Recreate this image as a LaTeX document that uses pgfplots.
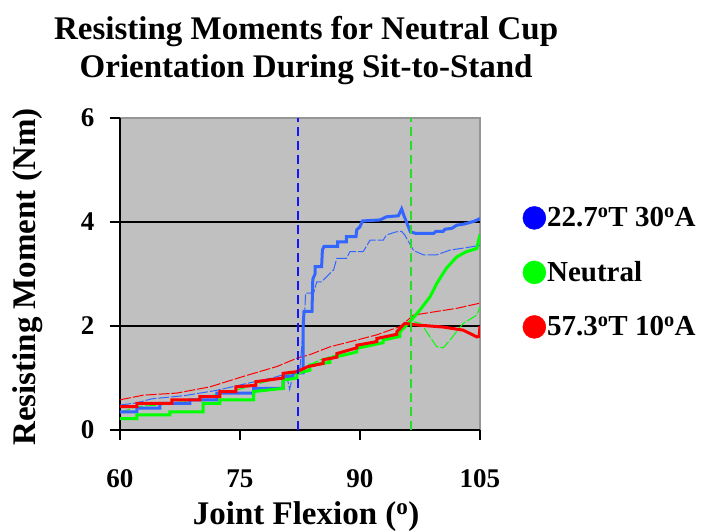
\documentclass[border=0pt]{standalone}
\usepackage{fontspec}
\setmainfont{Liberation Serif}
\usepackage{pgfplots}
\pgfplotsset{compat=1.18}
\definecolor{bggray}{RGB}{192,192,192}
\definecolor{bordergray}{RGB}{150,150,150}
\definecolor{lblue}{RGB}{51,102,255}
\definecolor{lgreen}{RGB}{0,255,0}
\definecolor{lred}{RGB}{255,0,0}
\definecolor{dblue}{RGB}{20,20,255}
\definecolor{dgreen}{RGB}{40,220,40}
\begin{document}
\begin{tikzpicture}[x=1pt,y=1pt]
\useasboundingbox (0,0) rectangle (702,531);
\begin{axis}[
  at={(120pt,101pt)}, anchor=south west,
  scale only axis, width=360pt, height=312pt,
  xmin=60, xmax=105, ymin=0, ymax=6,
  xtick={60,75,90,105}, ytick={0,2,4,6},
  tick align=outside, major tick length=10pt,
  tick style={black, line width=1.2pt},
  axis x line*=bottom, axis y line*=left,
  x axis line style={-, line width=1.4pt},
  y axis line style={-, line width=1.4pt},
  axis background/.style={fill=bggray, draw=bordergray, line width=1.2pt},
  extra y ticks={2,4}, extra y tick labels={},
  extra y tick style={grid=major, major tick length=0pt},
  grid style={black, line width=1.3pt},
  /pgf/number format/assume math mode=true,
  ticklabel style={font=\fontsize{27}{27}\selectfont\bfseries},
  xticklabel style={yshift=-26pt},
  yticklabel style={xshift=-12pt},
  title={Resisting Moments for Neutral Cup\\Orientation During Sit-to-Stand},
  title style={at={(axis description cs:0.517,1)}, anchor=south, yshift=24pt, align=center,
    font=\fontsize{33}{38}\selectfont\bfseries},
  xlabel={Joint Flexion (\textsuperscript{o})},
  xlabel style={at={(axis description cs:0.517,0)}, anchor=base, yshift=-94pt,
    font=\fontsize{33}{38}\selectfont\bfseries},
  ylabel={Resisting Moment (Nm)},
  ylabel style={at={(axis description cs:-0.2556,0.49)}, anchor=center,
    font=\fontsize{33}{38}\selectfont\bfseries},
  legend style={at={(axis description cs:1.118,0.718)}, anchor=north west,
    draw=none, fill=none, font=\fontsize{29}{29}\selectfont\bfseries,
    row sep=31pt, inner sep=0pt, nodes={inner sep=1pt}},
  legend cell align=left,
]
% thin series
\addplot[forget plot, lblue, line width=1pt, dash pattern=on 11pt off 2pt] coordinates {
(60,0.48)(62,0.52)(64,0.60)(68,0.66)(72,0.76)(76,0.90)(79,1.00)(80.8,1.08)(81.2,0.78)(81.6,1.05)(82.5,1.2)(83.1,2.3)(83.2,2.63)(84.2,2.63)(84.6,2.85)(85.2,2.85)(86.7,3.08)(87.1,3.30)(88.3,3.30)(88.75,3.43)(90.4,3.43)(91.25,3.65)(92.9,3.65)(93.3,3.75)(94.5,3.81)(95.2,3.82)(95.6,3.75)(96.7,3.45)(97.9,3.37)(99.6,3.37)(101.25,3.46)(103,3.50)(104.6,3.54)(105,3.55)};
\addplot[forget plot, lgreen, line width=1pt, dash pattern=on 11pt off 2pt] coordinates {
(60,0.33)(62,0.45)(65,0.48)(68,0.55)(71,0.65)(74,0.74)(77,0.88)(80,1.0)(82,1.12)(83.75,1.25)(85,1.35)(87.1,1.45)(90,1.6)(92,1.72)(94,1.82)(95.5,1.95)(96.25,2.10)(97.5,2.05)(97.9,1.99)(98.75,1.79)(99.6,1.60)(100.4,1.58)(101.25,1.73)(102.9,2.05)(104.6,2.21)(105,2.37)};
\addplot[forget plot, lred, line width=1pt, dash pattern=on 11pt off 2pt] coordinates {
(60,0.58)(62.9,0.67)(67.1,0.71)(71.25,0.83)(75.4,1.03)(79.6,1.22)(82.1,1.38)(83.75,1.45)(86.25,1.6)(89.6,1.73)(92.1,1.83)(95,1.99)(96.7,2.21)(99.6,2.28)(102.1,2.34)(105,2.44)};
% thick series
\addplot[forget plot, lblue, line width=3pt] coordinates {
(60,0.35)(62.1,0.35)(62.1,0.42)(65,0.42)(65,0.51)(68.75,0.51)(68.75,0.58)(72.1,0.58)(72.1,0.71)(76.7,0.71)(76.7,0.80)(80.4,0.80)(80.4,1.03)(81.6,1.03)(81.6,1.10)(82.9,1.10)(82.9,2.0)(83.0,2.28)(84.0,2.28)(84.1,2.9)(84.4,3.01)(84.4,3.14)(85.2,3.14)(85.3,3.46)(85.5,3.53)(87.2,3.53)(87.2,3.62)(88.3,3.62)(88.3,3.72)(89.5,3.72)(89.6,3.85)(90.0,3.91)(90.3,4.02)(92.5,4.04)(93.3,4.10)(94.8,4.12)(95.2,4.25)(95.5,4.12)(96.3,3.81)(97,3.78)(99.2,3.78)(99.5,3.82)(100.4,3.82)(100.6,3.86)(101.5,3.88)(102.1,3.94)(103,3.96)(104.2,4.01)(104.8,4.05)(105,4.07)};
\addplot[forget plot, lgreen, line width=3pt] coordinates {
(60,0.22)(62.1,0.22)(62.1,0.29)(66.25,0.29)(66.25,0.35)(70.4,0.35)(70.4,0.51)(72.5,0.51)(72.5,0.58)(76.7,0.58)(76.7,0.74)(80.4,0.80)(80.4,0.96)(82.1,1.0)(82.1,1.09)(83.75,1.15)(83.75,1.25)(86.25,1.30)(86.25,1.38)(89.6,1.50)(89.6,1.57)(92.9,1.68)(92.9,1.73)(95,1.80)(95,1.89)(96.25,2.08)(97.5,2.31)(98.75,2.56)(99.6,2.82)(100.8,3.11)(102.1,3.33)(103.3,3.43)(104.6,3.49)(104.9,3.69)(105,3.65)};
\addplot[forget plot, lred, line width=3pt] coordinates {
(60,0.45)(62.1,0.45)(62.1,0.51)(66.5,0.51)(66.5,0.58)(70,0.58)(70,0.64)(72.5,0.64)(72.5,0.74)(74.5,0.74)(74.5,0.83)(77,0.86)(77,0.93)(80.4,1.0)(80.4,1.09)(82,1.12)(82.5,1.15)(83.5,1.22)(85.4,1.28)(85.4,1.35)(87.1,1.40)(87.1,1.47)(89.6,1.58)(89.6,1.63)(92.1,1.70)(92.1,1.76)(94.6,1.84)(94.6,1.89)(95.6,2.05)(97.1,2.02)(98.75,2.0)(100.4,1.98)(102.9,1.92)(104.6,1.79)(104.9,1.80)(105,2.0)};
% vertical dashed markers
\addplot[forget plot, dblue, line width=1.8pt, dash pattern=on 9pt off 5pt] coordinates {(82.3,0)(82.3,6)};
\addplot[forget plot, dgreen, line width=1.8pt, dash pattern=on 9pt off 5pt] coordinates {(96.4,0)(96.4,6)};
% legend
\addlegendimage{legend image code/.code={\fill[blue] (11.5pt,0pt) circle (11.5pt);}}
\addlegendentry{22.7\textsuperscript{o}T 30\textsuperscript{o}A}
\addlegendimage{legend image code/.code={\fill[lgreen] (11.5pt,0pt) circle (11.5pt);}}
\addlegendentry{Neutral}
\addlegendimage{legend image code/.code={\fill[lred] (11.5pt,0pt) circle (11.5pt);}}
\addlegendentry{57.3\textsuperscript{o}T 10\textsuperscript{o}A}
\end{axis}
\end{tikzpicture}
\end{document}
